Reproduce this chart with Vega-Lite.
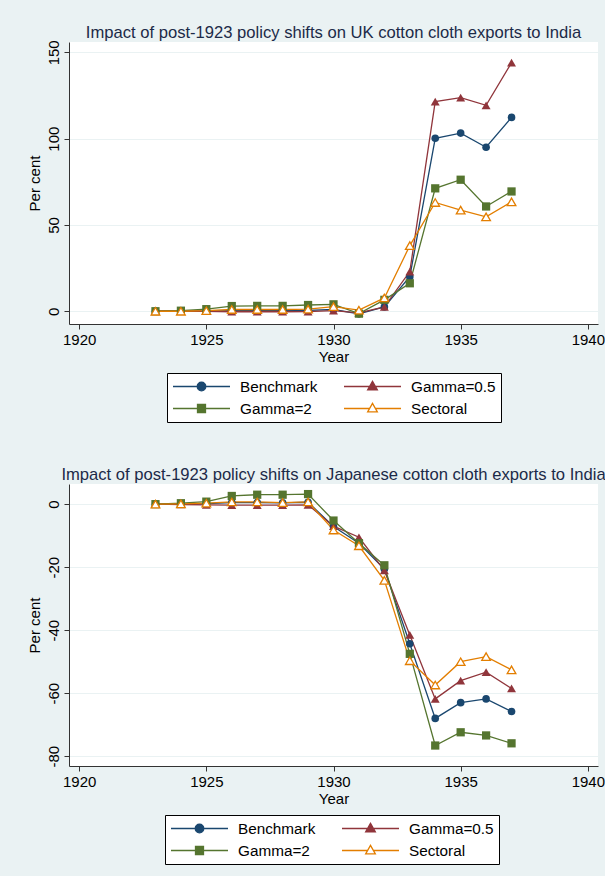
{
  "$schema": "https://vega.github.io/schema/vega-lite/v6.json",
  "background": "#eaf2f3",
  "padding": {"left": 27, "top": 25, "right": 5, "bottom": 11},
  "spacing": 44,
  "resolve": {"scale": {"color": "independent"}, "legend": {"color": "independent"}},
  "datasets": {
    "uk": [
      {"Year": 1923, "series": "Benchmark", "value": 0}, {"Year": 1923, "series": "Gamma=0.5", "value": 0}, {"Year": 1923, "series": "Gamma=2", "value": 0}, {"Year": 1923, "series": "Sectoral", "value": 0},
      {"Year": 1924, "series": "Benchmark", "value": 0}, {"Year": 1924, "series": "Gamma=0.5", "value": 0}, {"Year": 1924, "series": "Gamma=2", "value": 0.3}, {"Year": 1924, "series": "Sectoral", "value": 0},
      {"Year": 1925, "series": "Benchmark", "value": 0}, {"Year": 1925, "series": "Gamma=0.5", "value": 0}, {"Year": 1925, "series": "Gamma=2", "value": 1.2}, {"Year": 1925, "series": "Sectoral", "value": 0.3},
      {"Year": 1926, "series": "Benchmark", "value": 0.3}, {"Year": 1926, "series": "Gamma=0.5", "value": -0.3}, {"Year": 1926, "series": "Gamma=2", "value": 3.0}, {"Year": 1926, "series": "Sectoral", "value": 1.0},
      {"Year": 1927, "series": "Benchmark", "value": 0.3}, {"Year": 1927, "series": "Gamma=0.5", "value": -0.3}, {"Year": 1927, "series": "Gamma=2", "value": 3.1}, {"Year": 1927, "series": "Sectoral", "value": 1.0},
      {"Year": 1928, "series": "Benchmark", "value": 0.3}, {"Year": 1928, "series": "Gamma=0.5", "value": -0.3}, {"Year": 1928, "series": "Gamma=2", "value": 3.1}, {"Year": 1928, "series": "Sectoral", "value": 1.0},
      {"Year": 1929, "series": "Benchmark", "value": 0.5}, {"Year": 1929, "series": "Gamma=0.5", "value": -0.2}, {"Year": 1929, "series": "Gamma=2", "value": 3.6}, {"Year": 1929, "series": "Sectoral", "value": 1.2},
      {"Year": 1930, "series": "Benchmark", "value": 1.0}, {"Year": 1930, "series": "Gamma=0.5", "value": 0.3}, {"Year": 1930, "series": "Gamma=2", "value": 4.0}, {"Year": 1930, "series": "Sectoral", "value": 2.7},
      {"Year": 1931, "series": "Benchmark", "value": -1.5}, {"Year": 1931, "series": "Gamma=0.5", "value": -1.0}, {"Year": 1931, "series": "Gamma=2", "value": -1.4}, {"Year": 1931, "series": "Sectoral", "value": 0.6},
      {"Year": 1932, "series": "Benchmark", "value": 2.5}, {"Year": 1932, "series": "Gamma=0.5", "value": 2.5}, {"Year": 1932, "series": "Gamma=2", "value": 6.6}, {"Year": 1932, "series": "Sectoral", "value": 7.7},
      {"Year": 1933, "series": "Benchmark", "value": 20}, {"Year": 1933, "series": "Gamma=0.5", "value": 23}, {"Year": 1933, "series": "Gamma=2", "value": 16.2}, {"Year": 1933, "series": "Sectoral", "value": 38},
      {"Year": 1934, "series": "Benchmark", "value": 100.2}, {"Year": 1934, "series": "Gamma=0.5", "value": 121.5}, {"Year": 1934, "series": "Gamma=2", "value": 71.2}, {"Year": 1934, "series": "Sectoral", "value": 63},
      {"Year": 1935, "series": "Benchmark", "value": 103.2}, {"Year": 1935, "series": "Gamma=0.5", "value": 123.8}, {"Year": 1935, "series": "Gamma=2", "value": 76.2}, {"Year": 1935, "series": "Sectoral", "value": 58.6},
      {"Year": 1936, "series": "Benchmark", "value": 95}, {"Year": 1936, "series": "Gamma=0.5", "value": 119.3}, {"Year": 1936, "series": "Gamma=2", "value": 60.7}, {"Year": 1936, "series": "Sectoral", "value": 54.7},
      {"Year": 1937, "series": "Benchmark", "value": 112.3}, {"Year": 1937, "series": "Gamma=0.5", "value": 144}, {"Year": 1937, "series": "Gamma=2", "value": 69.4}, {"Year": 1937, "series": "Sectoral", "value": 63.4}
    ],
    "japan": [
      {"Year": 1923, "series": "Benchmark", "value": 0}, {"Year": 1923, "series": "Gamma=0.5", "value": 0}, {"Year": 1923, "series": "Gamma=2", "value": 0}, {"Year": 1923, "series": "Sectoral", "value": 0},
      {"Year": 1924, "series": "Benchmark", "value": 0}, {"Year": 1924, "series": "Gamma=0.5", "value": -0.1}, {"Year": 1924, "series": "Gamma=2", "value": 0.3}, {"Year": 1924, "series": "Sectoral", "value": 0.1},
      {"Year": 1925, "series": "Benchmark", "value": 0.2}, {"Year": 1925, "series": "Gamma=0.5", "value": -0.2}, {"Year": 1925, "series": "Gamma=2", "value": 0.8}, {"Year": 1925, "series": "Sectoral", "value": 0.3},
      {"Year": 1926, "series": "Benchmark", "value": 0.5}, {"Year": 1926, "series": "Gamma=0.5", "value": -0.3}, {"Year": 1926, "series": "Gamma=2", "value": 2.6}, {"Year": 1926, "series": "Sectoral", "value": 0.7},
      {"Year": 1927, "series": "Benchmark", "value": 0.5}, {"Year": 1927, "series": "Gamma=0.5", "value": -0.3}, {"Year": 1927, "series": "Gamma=2", "value": 3.0}, {"Year": 1927, "series": "Sectoral", "value": 0.7},
      {"Year": 1928, "series": "Benchmark", "value": 0.4}, {"Year": 1928, "series": "Gamma=0.5", "value": -0.3}, {"Year": 1928, "series": "Gamma=2", "value": 3.0}, {"Year": 1928, "series": "Sectoral", "value": 0.5},
      {"Year": 1929, "series": "Benchmark", "value": 0.6}, {"Year": 1929, "series": "Gamma=0.5", "value": -0.2}, {"Year": 1929, "series": "Gamma=2", "value": 3.2}, {"Year": 1929, "series": "Sectoral", "value": 0.7},
      {"Year": 1930, "series": "Benchmark", "value": -7.1}, {"Year": 1930, "series": "Gamma=0.5", "value": -7.0}, {"Year": 1930, "series": "Gamma=2", "value": -5.2}, {"Year": 1930, "series": "Sectoral", "value": -8.2},
      {"Year": 1931, "series": "Benchmark", "value": -12.4}, {"Year": 1931, "series": "Gamma=0.5", "value": -10.5}, {"Year": 1931, "series": "Gamma=2", "value": -12.4}, {"Year": 1931, "series": "Sectoral", "value": -13.2},
      {"Year": 1932, "series": "Benchmark", "value": -20.6}, {"Year": 1932, "series": "Gamma=0.5", "value": -21.0}, {"Year": 1932, "series": "Gamma=2", "value": -19.4}, {"Year": 1932, "series": "Sectoral", "value": -24.2},
      {"Year": 1933, "series": "Benchmark", "value": -44.3}, {"Year": 1933, "series": "Gamma=0.5", "value": -41.5}, {"Year": 1933, "series": "Gamma=2", "value": -47.5}, {"Year": 1933, "series": "Sectoral", "value": -49.7},
      {"Year": 1934, "series": "Benchmark", "value": -68}, {"Year": 1934, "series": "Gamma=0.5", "value": -61.8}, {"Year": 1934, "series": "Gamma=2", "value": -76.6}, {"Year": 1934, "series": "Sectoral", "value": -57.4},
      {"Year": 1935, "series": "Benchmark", "value": -63}, {"Year": 1935, "series": "Gamma=0.5", "value": -56}, {"Year": 1935, "series": "Gamma=2", "value": -72.4}, {"Year": 1935, "series": "Sectoral", "value": -50},
      {"Year": 1936, "series": "Benchmark", "value": -61.8}, {"Year": 1936, "series": "Gamma=0.5", "value": -53.3}, {"Year": 1936, "series": "Gamma=2", "value": -73.4}, {"Year": 1936, "series": "Sectoral", "value": -48.4},
      {"Year": 1937, "series": "Benchmark", "value": -65.8}, {"Year": 1937, "series": "Gamma=0.5", "value": -58.5}, {"Year": 1937, "series": "Gamma=2", "value": -75.9}, {"Year": 1937, "series": "Sectoral", "value": -52.6}
    ]
  },
  "config": {
    "font": "Liberation Sans",
    "view": {"fill": "white", "stroke": null},
    "title": {"fontSize": 16.6, "fontWeight": "normal", "color": "#1c2a48", "offset": -2, "anchor": "middle"},
    "axis": {"labelFontSize": 15, "titleFontSize": 15, "titleFontWeight": "normal", "labelColor": "black", "titleColor": "black", "domainColor": "#333333", "tickColor": "#333333", "tickSize": 5, "gridColor": "#eaf2f3", "gridWidth": 1.2, "labelPadding": 3},
    "legend": {
      "orient": "none", "direction": "horizontal", "columns": 2, "title": null, "fillColor": "white", "strokeColor": "black", "padding": 5,
      "labelFontSize": 15.3, "labelColor": "black", "symbolSize": 3249, "columnPadding": 25, "rowPadding": 5, "labelOffset": 9,
      "clipHeight": 17, "symbolStrokeWidth": 1.3
    }
  },
  "vconcat": [
    {
      "title": "Impact of post-1923 policy shifts on UK cotton cloth exports to India",
      "width": 529, "height": 282,
      "data": {"name": "uk"},
      "encoding": {
        "x": {"field": "Year", "type": "quantitative", "scale": {"domain": [1919.6, 1940.4], "nice": false, "zero": false}, "axis": {"values": [1920, 1925, 1930, 1935, 1940], "format": "d", "grid": false, "title": "Year", "titlePadding": 2}},
        "y": {"field": "value", "type": "quantitative", "scale": {"domain": [-7.4, 156], "nice": false, "zero": false}, "axis": {"values": [0, 50, 100, 150], "labelAngle": -90, "title": "Per cent", "grid": true, "titlePadding": 4}}
      },
      "layer": [
        {"mark": {"type": "line", "strokeWidth": 1.3},
         "encoding": {"color": {"field": "series", "type": "nominal",
           "scale": {"domain": ["Benchmark", "Gamma=0.5", "Gamma=2", "Sectoral"], "range": ["#1a476f", "#90353b", "#55752f", "#e37e00"]},
           "legend": {"legendX": 98, "legendY": 331,
             "encode": {"symbols": {"update": {
               "shape": {"signal": "datum.value === 'Benchmark' ? 'M-1,0H1M0.15,0A0.15,0.15,0,1,1,-0.15,0A0.15,0.15,0,1,1,0.15,0Z' : datum.value === 'Gamma=0.5' ? 'M-1,0H1M0,-0.18L0.17,0.12L-0.17,0.12Z' : datum.value === 'Gamma=2' ? 'M-1,0H1M-0.14,-0.14H0.14V0.14H-0.14Z' : 'M-1,0H-0.11M0.11,0H1M0,-0.18L0.17,0.12L-0.17,0.12Z'"},
               "fill": {"signal": "datum.value === 'Benchmark' ? '#1a476f' : datum.value === 'Gamma=0.5' ? '#90353b' : datum.value === 'Gamma=2' ? '#55752f' : 'white'"},
               "stroke": {"signal": "datum.value === 'Benchmark' ? '#1a476f' : datum.value === 'Gamma=0.5' ? '#90353b' : datum.value === 'Gamma=2' ? '#55752f' : '#e37e00'"},
               "opacity": {"value": 1}, "fillOpacity": {"value": 1}, "strokeWidth": {"value": 1.3}, "size": {"value": 3249}
             }}}}}}},
        {"transform": [{"filter": "datum.series === 'Benchmark'"}], "mark": {"type": "point", "shape": "circle", "filled": true, "color": "#1a476f", "size": 58, "opacity": 1}},
        {"transform": [{"filter": "datum.series === 'Gamma=0.5'"}], "mark": {"type": "point", "shape": "triangle-up", "filled": true, "color": "#90353b", "size": 80, "opacity": 1}},
        {"transform": [{"filter": "datum.series === 'Gamma=2'"}], "mark": {"type": "point", "shape": "square", "filled": true, "color": "#55752f", "size": 68, "opacity": 1}},
        {"transform": [{"filter": "datum.series === 'Sectoral'"}], "mark": {"type": "point", "shape": "triangle-up", "filled": false, "fill": "white", "fillOpacity": 1, "color": "#e37e00", "strokeWidth": 1.3, "size": 75, "opacity": 1}}
      ]
    },
    {
      "title": {"text": "Impact of post-1923 policy shifts on Japanese cotton cloth exports to India", "offset": 0},
      "width": 529, "height": 282,
      "data": {"name": "japan"},
      "encoding": {
        "x": {"field": "Year", "type": "quantitative", "scale": {"domain": [1919.6, 1940.4], "nice": false, "zero": false}, "axis": {"values": [1920, 1925, 1930, 1935, 1940], "format": "d", "grid": false, "title": "Year", "titlePadding": 2}},
        "y": {"field": "value", "type": "quantitative", "scale": {"domain": [-83.1, 6.4], "nice": false, "zero": false}, "axis": {"values": [-80, -60, -40, -20, 0], "labelExpr": "'' + datum.value", "labelAngle": -90, "title": "Per cent", "grid": true, "titlePadding": 4}}
      },
      "layer": [
        {"mark": {"type": "line", "strokeWidth": 1.3},
         "encoding": {"color": {"field": "series", "type": "nominal",
           "scale": {"domain": ["Benchmark", "Gamma=0.5", "Gamma=2", "Sectoral"], "range": ["#1a476f", "#90353b", "#55752f", "#e37e00"]},
           "legend": {"legendX": 96, "legendY": 331,
             "encode": {"symbols": {"update": {
               "shape": {"signal": "datum.value === 'Benchmark' ? 'M-1,0H1M0.15,0A0.15,0.15,0,1,1,-0.15,0A0.15,0.15,0,1,1,0.15,0Z' : datum.value === 'Gamma=0.5' ? 'M-1,0H1M0,-0.18L0.17,0.12L-0.17,0.12Z' : datum.value === 'Gamma=2' ? 'M-1,0H1M-0.14,-0.14H0.14V0.14H-0.14Z' : 'M-1,0H-0.11M0.11,0H1M0,-0.18L0.17,0.12L-0.17,0.12Z'"},
               "fill": {"signal": "datum.value === 'Benchmark' ? '#1a476f' : datum.value === 'Gamma=0.5' ? '#90353b' : datum.value === 'Gamma=2' ? '#55752f' : 'white'"},
               "stroke": {"signal": "datum.value === 'Benchmark' ? '#1a476f' : datum.value === 'Gamma=0.5' ? '#90353b' : datum.value === 'Gamma=2' ? '#55752f' : '#e37e00'"},
               "opacity": {"value": 1}, "fillOpacity": {"value": 1}, "strokeWidth": {"value": 1.3}, "size": {"value": 3249}
             }}}}}}},
        {"transform": [{"filter": "datum.series === 'Benchmark'"}], "mark": {"type": "point", "shape": "circle", "filled": true, "color": "#1a476f", "size": 58, "opacity": 1}},
        {"transform": [{"filter": "datum.series === 'Gamma=0.5'"}], "mark": {"type": "point", "shape": "triangle-up", "filled": true, "color": "#90353b", "size": 80, "opacity": 1}},
        {"transform": [{"filter": "datum.series === 'Gamma=2'"}], "mark": {"type": "point", "shape": "square", "filled": true, "color": "#55752f", "size": 68, "opacity": 1}},
        {"transform": [{"filter": "datum.series === 'Sectoral'"}], "mark": {"type": "point", "shape": "triangle-up", "filled": false, "fill": "white", "fillOpacity": 1, "color": "#e37e00", "strokeWidth": 1.3, "size": 75, "opacity": 1}}
      ]
    }
  ]
}
